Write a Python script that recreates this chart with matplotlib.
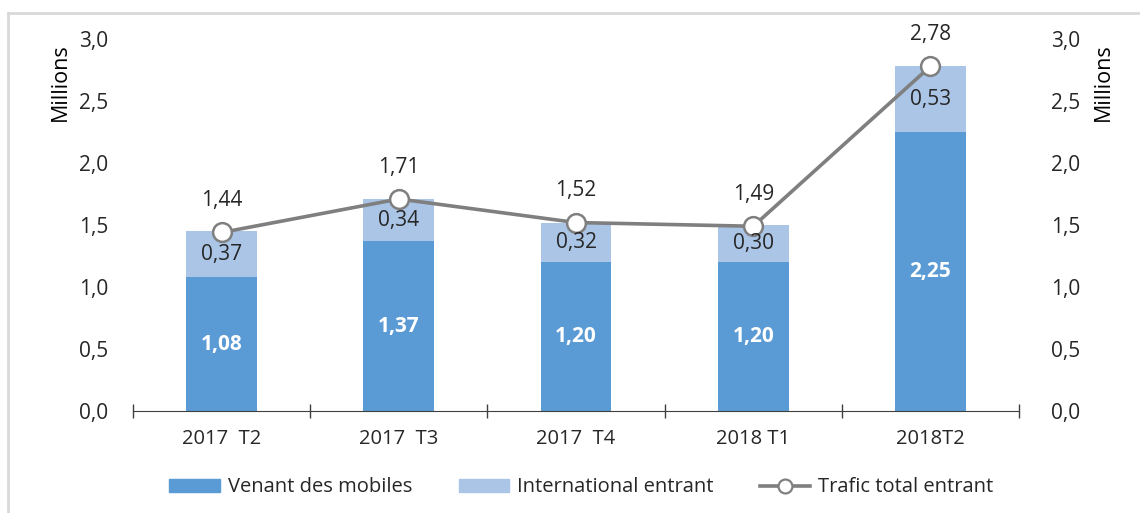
import matplotlib
matplotlib.use('Agg')
import matplotlib.pyplot as plt
from matplotlib.lines import Line2D
from matplotlib.patches import Patch
import numpy as np

categories = ['2017  T2', '2017  T3', '2017  T4', '2018 T1', '2018T2']
mobiles = [1.08, 1.37, 1.20, 1.20, 2.25]
international = [0.37, 0.34, 0.32, 0.30, 0.53]
total = [1.44, 1.71, 1.52, 1.49, 2.78]

plt.rcParams['font.family'] = ['Open Sans', 'DejaVu Sans']
plt.rcParams['font.size'] = 15
txt = '#262626'

def fr(v):
    return ('%.2f' % v).replace('.', ',')

fig = plt.figure(figsize=(11.4, 5.13), dpi=100)
ax = fig.add_axes([0.1167, 0.1988, 0.7772, 0.7251])
x = np.arange(len(categories))

c_mob = '#5B9BD5'
c_int = '#ABC5E7'
ax.bar(x, mobiles, width=0.4, color=c_mob, zorder=2)
ax.bar(x, international, width=0.4, bottom=mobiles, color=c_int, zorder=2)
ax.plot(x, total, color='#7F7F7F', lw=2.6, marker='o', ms=13.5,
        mfc='white', mec='#7F7F7F', mew=1.8, zorder=4)

for i in range(len(x)):
    ax.text(x[i], mobiles[i] / 2, fr(mobiles[i]), ha='center', va='center',
            color='white', fontweight='bold', fontsize=15, zorder=5)
    ax.text(x[i], mobiles[i] + international[i] / 2, fr(international[i]),
            ha='center', va='center', color=txt, zorder=5)
    ax.annotate(fr(total[i]), (x[i], total[i]), xytext=(0, 23),
                textcoords='offset points', ha='center', va='center', color=txt)

ax.set_xlim(-0.5, 4.5)
ax.set_ylim(0, 3.0)
yt = np.arange(0, 3.01, 0.5)
ax.set_yticks(yt)
ax.set_yticklabels([('%.1f' % v).replace('.', ',') for v in yt], color=txt)
ax.tick_params(axis='y', length=0, pad=18)

ax.set_xticks(np.arange(-0.5, 4.6, 1.0))
ax.set_xticklabels([])
ax.set_xticks(x, minor=True)
ax.set_xticklabels(categories, minor=True, color=txt, fontsize=14.5)
ax.tick_params(axis='x', which='major', direction='inout', length=10, width=1, color='#404040')
ax.tick_params(axis='x', which='minor', length=0, pad=13)

for s in ['top', 'left', 'right']:
    ax.spines[s].set_visible(False)
ax.spines['bottom'].set_color('#404040')

ax2 = ax.twinx()
ax2.set_ylim(0, 3.0)
ax2.set_yticks(yt)
ax2.set_yticklabels([('%.1f' % v).replace('.', ',') for v in yt], color=txt)
ax2.tick_params(axis='y', length=0, pad=23)
for s in ax2.spines.values():
    s.set_visible(False)

fig.text(0.053, 0.84, 'Millions', rotation=90, ha='center', va='center', color='black', fontsize=15.5)
fig.text(0.968, 0.84, 'Millions', rotation=90, ha='center', va='center', color='black', fontsize=15.5)

handles = [Patch(color=c_mob), Patch(color=c_int),
           Line2D([], [], color='#7F7F7F', lw=2.6, marker='o', ms=10, mfc='white', mec='#7F7F7F', mew=1.6)]
fig.legend(handles, ['Venant des mobiles', 'International entrant', 'Trafic total entrant'],
           loc='center', bbox_to_anchor=(0.51, 0.05), ncol=3, frameon=False,
           fontsize=14.5, handlelength=2.5, handleheight=0.6, columnspacing=2.3, handletextpad=0.4,
           labelcolor=txt)

# light frame around the chart
fig.add_artist(Line2D([8 / 1140, 8 / 1140], [0, 1 - 13 / 513], color='#D9D9D9', lw=2))
fig.add_artist(Line2D([8 / 1140, 1], [1 - 13 / 513, 1 - 13 / 513], color='#D9D9D9', lw=2))

fig.savefig('out.png', dpi=100)
